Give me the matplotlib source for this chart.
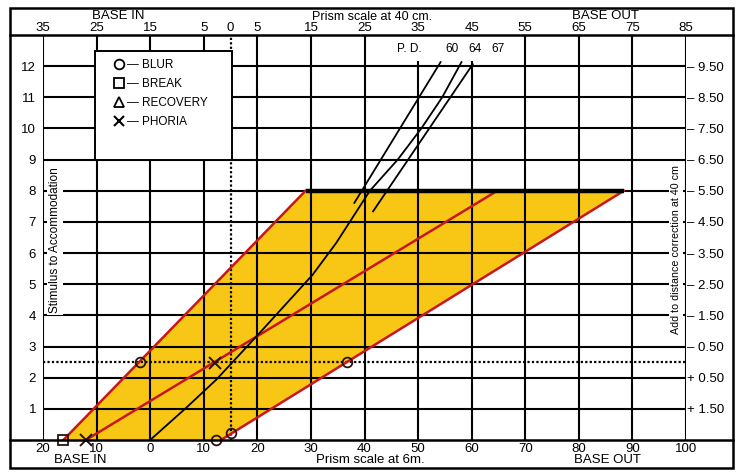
import matplotlib.pyplot as plt
from matplotlib.lines import Line2D
from matplotlib.patches import Rectangle, Polygon

plt.rcParams['font.family'] = ['Liberation Sans', 'DejaVu Sans']

# prism in dioptres on the 6 m scale (negative = base in), stimulus in D
x_lim = (-20, 100)
y_lim = (0, 13)
bottom_ticks = [-20, -10, 0, 10, 20, 30, 40, 50, 60, 70, 80, 90, 100]
top_ticks = [-35, -25, -15, -5, 0, 5, 15, 25, 35, 45, 55, 65, 75, 85]
left_ticks = [1, 2, 3, 4, 5, 6, 7, 8, 9, 10, 11, 12]
right_ticks = [-9.5, -8.5, -7.5, -6.5, -5.5, -4.5, -3.5, -2.5, -1.5, -0.5, 0.5, 1.5]

# zone of clear single binocular vision
left_edge_x = [-16.2, 29.0]
left_edge_y = [0, 8]
right_edge_x = [13.2, 88.4]
right_edge_y = [0, 8]
phoria_line_x = [-12.0, 64.3]
phoria_line_y = [0, 7.95]
limit_x = [29.0, 88.4]
limit_y = 8

# demand lines
demand_x = [0, 6.7, 12.3, 20.4, 30.3, 34.7, 41.0, 46.2, 50.6, 54.5, 58.1]
demand_y = [0, 1.03, 1.93, 3.43, 5.3, 6.32, 8.0, 9.0, 10.0, 11.0, 12.13]
short_a_x = [38.1, 54.2]
short_a_y = [7.61, 12.13]
short_b_x = [41.6, 60.2]
short_b_y = [7.34, 12.06]
pd_labels = ['60', '64', '67']

# findings
blur_x = [-1.9, 36.8, 12.3, 15.1]
blur_y = [2.5, 2.5, 0, 0.23]
break_x = [-16.2]
break_y = [0]
phoria_x = [-12.0, 12.1]
phoria_y = [0, 2.47]
test_level = 2.5
ortho_40cm = 15

W, H = 740, 476
def fx(px):
    return px / W
def fy(py):
    return 1 - py / H

fig = plt.figure(figsize=(7.4, 4.76), dpi=100)
ax = fig.add_axes([fx(43), fy(440), fx(686) - fx(43), fy(35) - fy(440)])
ax.set_xlim(*x_lim)
ax.set_ylim(*y_lim)
for s in ax.spines.values():
    s.set_visible(False)

red = '#c8161d'
yellow = '#f8c614'

ax.add_patch(Polygon([(left_edge_x[0], left_edge_y[0]), (left_edge_x[1], left_edge_y[1]),
                      (right_edge_x[1], right_edge_y[1]), (right_edge_x[0], right_edge_y[0])],
                     closed=True, facecolor=yellow, edgecolor='none', zorder=1))

for v in bottom_ticks:
    ax.axvline(v, color='black', lw=1.5, zorder=2)
for v in left_ticks:
    ax.axhline(v, color='black', lw=1.5, zorder=2)
ax.axhline(test_level, color='black', lw=1.6, ls=(0, (1, 1)), zorder=2)
ax.axvline(ortho_40cm, color='black', lw=1.6, ls=(0, (1, 1)), zorder=2)

ax.plot(left_edge_x, left_edge_y, color=red, lw=1.8, zorder=3)
ax.plot(right_edge_x, right_edge_y, color=red, lw=1.8, zorder=3)
ax.plot(phoria_line_x, phoria_line_y, color=red, lw=1.8, zorder=3)
ax.plot(limit_x, [limit_y, limit_y], color='black', lw=3.2, zorder=3, solid_capstyle='butt')

ax.plot(demand_x, demand_y, color='black', lw=1.3, zorder=4)
ax.plot(short_a_x, short_a_y, color='black', lw=1.3, zorder=4)
ax.plot(short_b_x, short_b_y, color='black', lw=1.3, zorder=4)

ax.plot(blur_x, blur_y, 'o', ms=7, mfc='none', mec='#2a1212', mew=1.3, zorder=5, clip_on=False)
ax.plot(break_x, break_y, 's', ms=7.5, mfc='none', mec='#2a1212', mew=1.3, zorder=5, clip_on=False)
ax.plot(phoria_x, phoria_y, 'x', ms=9, mec='#2a1212', mew=1.4, zorder=5, clip_on=False)

# ticks
ax.set_xticks(bottom_ticks)
ax.set_xticklabels([str(abs(v)) for v in bottom_ticks])
ax.set_yticks(left_ticks)
ax.set_yticklabels([str(v) for v in left_ticks])
ax.tick_params(length=0, labelsize=9.5, pad=2)
ax.tick_params(axis='y', pad=5)

top = ax.secondary_xaxis('top', functions=(lambda x: x - 15, lambda x: x + 15))
top.set_xticks(top_ticks)
top.set_xticklabels([str(abs(v)) for v in top_ticks])
top.tick_params(length=0, labelsize=9.5, pad=1)
for s in top.spines.values():
    s.set_visible(False)

right = ax.secondary_yaxis('right', functions=(lambda y: 2.5 - y, lambda v: 2.5 - v))
right.set_yticks(right_ticks)
right.set_yticklabels([('\u2013 ' if v < 0 else '+ ') + '%.2f' % abs(v) for v in right_ticks])
right.tick_params(length=0, labelsize=9.5, pad=1)
for s in right.spines.values():
    s.set_visible(False)

ax.text(0.019, 0.494, 'Stimulus to Accommodation', transform=ax.transAxes, rotation=90,
        ha='center', va='center', fontsize=8.5, zorder=6,
        bbox=dict(facecolor='white', edgecolor='none', pad=1.5))
ax.text(0.985, 0.47, 'Add to distance correction at 40 cm', transform=ax.transAxes,
        rotation=90, ha='center', va='center', fontsize=7.7, zorder=6,
        bbox=dict(facecolor='white', edgecolor='none', pad=1.5))

# legend box
ax.add_patch(Rectangle((-10.3, 9.0), 25.6, 3.48, facecolor='white', edgecolor='black',
                       lw=1.4, zorder=6))
handles = [Line2D([], [], marker='o', ls='none', mfc='none', mec='black', ms=7, mew=1.3),
           Line2D([], [], marker='s', ls='none', mfc='none', mec='black', ms=7, mew=1.3),
           Line2D([], [], marker='^', ls='none', mfc='none', mec='black', ms=7, mew=1.3),
           Line2D([], [], marker='x', ls='none', mec='black', ms=7, mew=1.5)]
leg = fig.legend(handles, ['\u2014 BLUR', '\u2014 BREAK', '\u2014 RECOVERY', '\u2014 PHORIA'],
                 loc='upper left', bbox_to_anchor=(fx(114), fy(59)), frameon=False,
                 fontsize=8.5, handlelength=0.9, handletextpad=0.2, labelspacing=0.6,
                 borderpad=0, borderaxespad=0)
leg.set_zorder(8)

# P. D. labels
ax.add_patch(Rectangle((43.5, 12.15), 24.5, 0.85, facecolor='white', edgecolor='none', zorder=6))
ax.text(48.4, 12.55, 'P. D.', ha='center', va='center', fontsize=8.5, zorder=7)
for lab, xv in zip(pd_labels, [56.4, 60.7, 64.9]):
    ax.text(xv, 12.55, lab, ha='center', va='center', fontsize=8.5, zorder=7)

# outer frame and strips
fig.add_artist(Rectangle((fx(10), fy(468)), fx(733) - fx(10), fy(8) - fy(468),
                         transform=fig.transFigure, fill=False, lw=1.8, edgecolor='black'))
for py in [35, 440]:
    fig.add_artist(Line2D([fx(10), fx(733)], [fy(py), fy(py)], transform=fig.transFigure,
                          color='black', lw=1.8))

fig.text(fx(118), fy(16), 'BASE IN', ha='center', va='center', fontsize=9.5)
fig.text(fx(372), fy(17), 'Prism scale at 40 cm.', ha='center', va='center', fontsize=9)
fig.text(fx(605), fy(16), 'BASE OUT', ha='center', va='center', fontsize=9.5)
fig.text(fx(80), fy(460), 'BASE IN', ha='center', va='center', fontsize=9.5)
fig.text(fx(370), fy(460), 'Prism scale at 6m.', ha='center', va='center', fontsize=9.5)
fig.text(fx(607), fy(460), 'BASE OUT', ha='center', va='center', fontsize=9.5)

fig.savefig('out.png', dpi=100, facecolor='white')
